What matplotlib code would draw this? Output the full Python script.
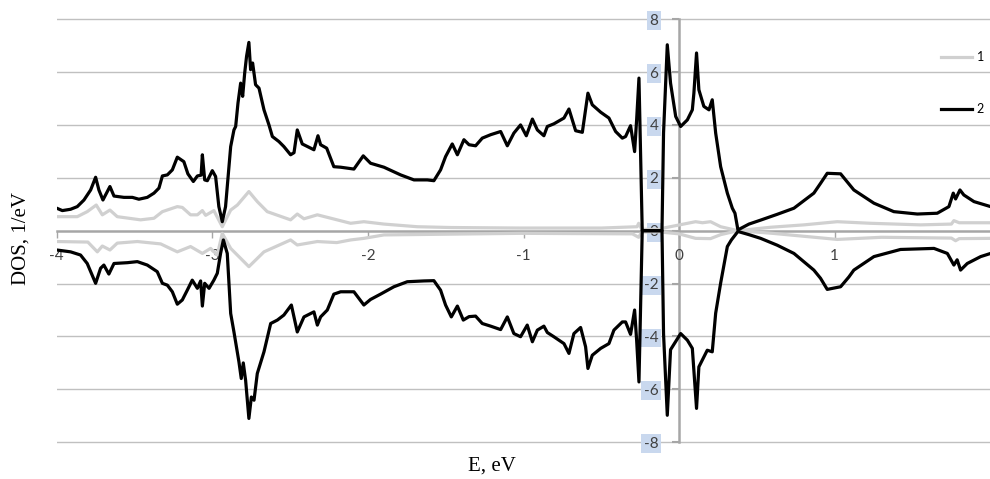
import matplotlib
matplotlib.use("Agg")
import matplotlib.pyplot as plt

# series 2 (black), spin up
e_up2 = [-4.0, -3.964, -3.911, -3.868, -3.825, -3.782, -3.750, -3.729, -3.703, -3.658,
         -3.632, -3.568, -3.514, -3.472, -3.418, -3.375, -3.343, -3.321, -3.289, -3.257,
         -3.225, -3.183, -3.157, -3.122, -3.096, -3.072, -3.064, -3.049, -3.032, -3.000,
         -2.979, -2.958, -2.936, -2.915, -2.882, -2.861, -2.850, -2.835, -2.818, -2.805,
         -2.792, -2.780, -2.765, -2.754, -2.741, -2.722, -2.700, -2.668, -2.636, -2.614,
         -2.572, -2.540, -2.497, -2.475, -2.454, -2.422, -2.368, -2.347, -2.321, -2.304,
         -2.265, -2.219, -2.175, -2.090, -2.030, -1.983, -1.897, -1.790, -1.704, -1.618,
         -1.576, -1.533, -1.501, -1.458, -1.425, -1.383, -1.350, -1.308, -1.265, -1.211,
         -1.147, -1.104, -1.062, -1.019, -0.982, -0.943, -0.911, -0.869, -0.847, -0.805,
         -0.740, -0.708, -0.665, -0.622, -0.586, -0.558, -0.504, -0.451, -0.408, -0.365,
         -0.344, -0.312, -0.286, -0.273, -0.258, -0.237, -0.110, -0.100, -0.076, -0.055,
         -0.022, 0.010, 0.053, 0.085, 0.095, 0.112, 0.127, 0.159, 0.192, 0.213,
         0.235, 0.267, 0.310, 0.342, 0.359, 0.378, 0.449, 0.524, 0.631, 0.738,
         0.866, 0.909, 0.952, 1.038, 1.091, 1.123, 1.252, 1.380, 1.531, 1.659,
         1.734, 1.762, 1.777, 1.805, 1.830, 1.895, 2.002]
dos_up2 = [0.85, 0.76, 0.81, 0.91, 1.16, 1.54, 2.02, 1.54, 1.16, 1.67,
           1.31, 1.26, 1.26, 1.19, 1.26, 1.42, 1.61, 2.07, 2.11, 2.30,
           2.78, 2.61, 2.15, 1.86, 2.07, 2.10, 2.87, 1.92, 1.89, 2.27,
           2.05, 0.91, 0.34, 0.91, 3.18, 3.81, 3.94, 4.83, 5.58, 5.08,
           5.96, 6.59, 7.12, 6.09, 6.34, 5.52, 5.39, 4.57, 4.00, 3.56,
           3.37, 3.18, 2.87, 2.95, 3.81, 3.28, 3.12, 3.06, 3.59, 3.25,
           3.12, 2.42, 2.40, 2.33, 2.83, 2.55, 2.40, 2.11, 1.92, 1.92,
           1.89, 2.30, 2.80, 3.28, 2.87, 3.44, 3.25, 3.21, 3.50, 3.63,
           3.75, 3.21, 3.69, 4.00, 3.59, 4.22, 3.81, 3.59, 3.94, 4.04,
           4.26, 4.60, 3.78, 3.72, 5.20, 4.76, 4.48, 4.26, 3.75, 3.50,
           3.56, 3.97, 2.99, 4.19, 5.77, 0.0, 0.0, 3.70, 7.03, 5.58,
           4.32, 3.94, 4.19, 4.57, 5.20, 6.72, 5.33, 4.70, 4.57, 4.95,
           3.69, 2.42, 1.42, 0.85, 0.66, 0.03, 0.25, 0.40, 0.62, 0.85,
           1.42, 1.79, 2.17, 2.15, 1.77, 1.54, 1.04, 0.72, 0.63, 0.66,
           0.91, 1.42, 1.20, 1.54, 1.35, 1.10, 0.91]

# series 2 (black), spin down
e_dn2 = [-4.0, -3.911, -3.847, -3.804, -3.750, -3.718, -3.697, -3.665, -3.632, -3.546,
         -3.482, -3.418, -3.354, -3.321, -3.289, -3.257, -3.225, -3.193, -3.161, -3.129,
         -3.096, -3.075, -3.064, -3.049, -3.021, -2.990, -2.968, -2.947, -2.929, -2.904,
         -2.882, -2.861, -2.829, -2.814, -2.801, -2.786, -2.765, -2.749, -2.732, -2.711,
         -2.668, -2.625, -2.582, -2.540, -2.492, -2.454, -2.411, -2.347, -2.325, -2.304,
         -2.261, -2.219, -2.175, -2.090, -2.026, -1.983, -1.919, -1.833, -1.747, -1.640,
         -1.576, -1.533, -1.501, -1.464, -1.425, -1.387, -1.350, -1.308, -1.265, -1.211,
         -1.147, -1.104, -1.062, -1.019, -0.976, -0.943, -0.911, -0.869, -0.847, -0.805,
         -0.740, -0.708, -0.676, -0.633, -0.601, -0.586, -0.558, -0.504, -0.451, -0.419,
         -0.365, -0.344, -0.312, -0.286, -0.273, -0.258, -0.237, -0.110, -0.100, -0.076,
         -0.055, 0.010, 0.053, 0.085, 0.112, 0.127, 0.181, 0.213, 0.235, 0.267,
         0.310, 0.336, 0.378, 0.449, 0.524, 0.631, 0.738, 0.866, 0.909, 0.952,
         1.038, 1.091, 1.123, 1.252, 1.423, 1.638, 1.724, 1.766, 1.787, 1.809,
         1.852, 1.938, 2.002]
dos_dn2 = [-0.73, -0.80, -0.92, -1.24, -1.99, -1.42, -1.30, -1.64, -1.24, -1.21,
           -1.17, -1.30, -1.55, -1.99, -2.06, -2.31, -2.78, -2.62, -2.25, -1.87,
           -2.18, -1.90, -2.85, -1.99, -2.18, -1.87, -1.61, -0.86, -0.35, -0.86,
           -3.13, -3.83, -4.96, -5.59, -5.00, -5.66, -7.10, -6.29, -6.41, -5.40,
           -4.58, -3.51, -3.38, -3.19, -2.81, -3.83, -3.26, -3.07, -3.57, -3.26,
           -3.00, -2.40, -2.31, -2.31, -2.81, -2.60, -2.40, -2.12, -1.93, -1.90,
           -1.89, -2.25, -2.81, -3.26, -2.85, -3.38, -3.25, -3.23, -3.51, -3.61,
           -3.74, -3.26, -3.89, -4.01, -3.57, -4.20, -3.76, -3.61, -3.85, -4.01,
           -4.27, -4.64, -3.89, -3.66, -4.39, -5.21, -4.71, -4.45, -4.27, -3.76,
           -3.45, -3.45, -3.92, -3.00, -4.14, -5.72, 0.0, 0.0, -3.90, -6.98,
           -4.50, -3.89, -4.14, -4.45, -6.72, -5.15, -4.52, -4.58, -3.12, -1.98,
           -0.60, -0.35, -0.03, -0.15, -0.29, -0.55, -0.86, -1.49, -1.80, -2.22,
           -2.12, -1.75, -1.49, -0.98, -0.71, -0.67, -0.86, -1.30, -1.10, -1.49,
           -1.24, -0.98, -0.86]

# series 1 (grey), spin up
e_up1 = [-4.0, -3.868, -3.804, -3.746, -3.707, -3.658, -3.611, -3.461, -3.375, -3.321,
         -3.225, -3.193, -3.140, -3.096, -3.064, -3.043, -2.990, -2.936, -2.882, -2.839,
         -2.765, -2.711, -2.647, -2.497, -2.454, -2.411, -2.325, -2.111, -2.026, -1.897,
         -1.683, -1.469, -1.019, -0.500, -0.270, -0.260, -0.240, -0.120, -0.100, 0.106,
         0.150, 0.202, 0.267, 0.378, 0.588, 0.802, 1.016, 1.230, 1.552, 1.750,
         1.766, 1.800, 2.002]
dos_up1 = [0.53, 0.53, 0.72, 0.97, 0.60, 0.78, 0.53, 0.41, 0.47, 0.72,
           0.91, 0.88, 0.60, 0.60, 0.76, 0.58, 0.76, 0.15, 0.78, 0.97,
           1.48, 1.10, 0.72, 0.41, 0.63, 0.45, 0.60, 0.28, 0.34, 0.25,
           0.15, 0.12, 0.10, 0.10, 0.15, 0.28, 0.05, 0.05, 0.10, 0.34,
           0.30, 0.34, 0.15, 0.0, 0.13, 0.22, 0.34, 0.28, 0.22, 0.25,
           0.38, 0.30, 0.30]

# series 1 (grey), spin down
e_dn1 = [-4.0, -3.800, -3.739, -3.707, -3.658, -3.611, -3.482, -3.332, -3.225, -3.140,
         -3.064, -3.011, -2.968, -2.936, -2.882, -2.765, -2.668, -2.497, -2.454, -2.325,
         -2.200, -2.111, -2.026, -1.897, -1.019, -0.300, -0.260, -0.240, -0.120, 0.0,
         0.106, 0.202, 0.267, 0.378, 0.600, 1.016, 1.300, 1.750, 1.777, 1.800,
         2.002]
dos_dn1 = [-0.41, -0.43, -0.80, -0.58, -0.73, -0.47, -0.41, -0.50, -0.80, -0.60,
           -0.86, -0.67, -0.92, -0.10, -0.67, -1.36, -0.80, -0.35, -0.54, -0.41,
           -0.45, -0.35, -0.29, -0.16, -0.10, -0.12, -0.25, -0.05, -0.05, -0.12,
           -0.29, -0.30, -0.15, 0.0, -0.10, -0.33, -0.25, -0.28, -0.38, -0.30,
           -0.29]

series_labels = ["1", "2"]
y_ticks = [-8, -6, -4, -2, 0, 2, 4, 6, 8]
x_ticks = [-4, -3, -2, -1, 0, 1]

grey = "#d0d0d0"
axis_grey = "#a6a6a6"

fig = plt.figure(figsize=(9.9, 4.79), dpi=100)
ax = fig.add_axes([0.0573, 0.0712, 0.943, 0.8944])

for y in y_ticks:
    if y != 0:
        ax.axhline(y, color="#c0c0c0", lw=1.0, zorder=0.5)

lw = 2.3
l1, = ax.plot(e_up1, dos_up1, color=grey, lw=lw, solid_joinstyle="round", zorder=2)
ax.plot(e_dn1, dos_dn1, color=grey, lw=lw, solid_joinstyle="round", zorder=2)
l2, = ax.plot(e_up2, dos_up2, color="black", lw=lw, solid_joinstyle="round", zorder=3)
ax.plot(e_dn2, dos_dn2, color="black", lw=lw, solid_joinstyle="round", zorder=3)

ax.set_xlim(-4, 2.0)
ax.set_ylim(-8.1, 8.1)

for s in ["top", "right"]:
    ax.spines[s].set_visible(False)
ax.spines["bottom"].set_position(("data", 0))
ax.spines["left"].set_position(("data", 0))
ax.spines["left"].set_bounds(-8, 8)
for s in ["bottom", "left"]:
    ax.spines[s].set_color(axis_grey)
    ax.spines[s].set_linewidth(1.8)
    ax.spines[s].set_zorder(1)

ax.set_xticks(x_ticks)
ax.set_yticks(y_ticks)
ax.set_xticklabels([str(v) for v in x_ticks])
ax.set_yticklabels([str(v) for v in y_ticks])
ax.tick_params(axis="x", direction="out", length=5, width=1, color=axis_grey,
               pad=8, labelsize=11, labelcolor="#404040")
ax.tick_params(axis="y", direction="out", length=5, width=1.5, color=axis_grey,
               pad=10, labelsize=11, labelcolor="#404040")
for lab in ax.get_xticklabels() + ax.get_yticklabels():
    lab.set_fontfamily("Lato")
for lab in ax.get_yticklabels():
    lab.set_bbox(dict(facecolor="#c9d8ee", edgecolor="none", pad=1.8))

fig.text(0.497, 0.026, "E, eV", ha="center", va="center",
         fontsize=15, fontfamily="Liberation Serif")
fig.text(0.021, 0.502, "DOS, 1/eV", ha="center", va="center", rotation=90,
         fontsize=15, fontfamily="Liberation Serif")

leg = ax.legend([l1, l2], series_labels, loc="upper left",
                bbox_to_anchor=(941 / 990, 1 - 51 / 479), bbox_transform=fig.transFigure,
                frameon=False, borderpad=0, borderaxespad=0, handlelength=2.5,
                handletextpad=0.35, labelspacing=3.2,
                prop={"family": "Lato", "size": 9})

fig.savefig("out.png", dpi=100)
